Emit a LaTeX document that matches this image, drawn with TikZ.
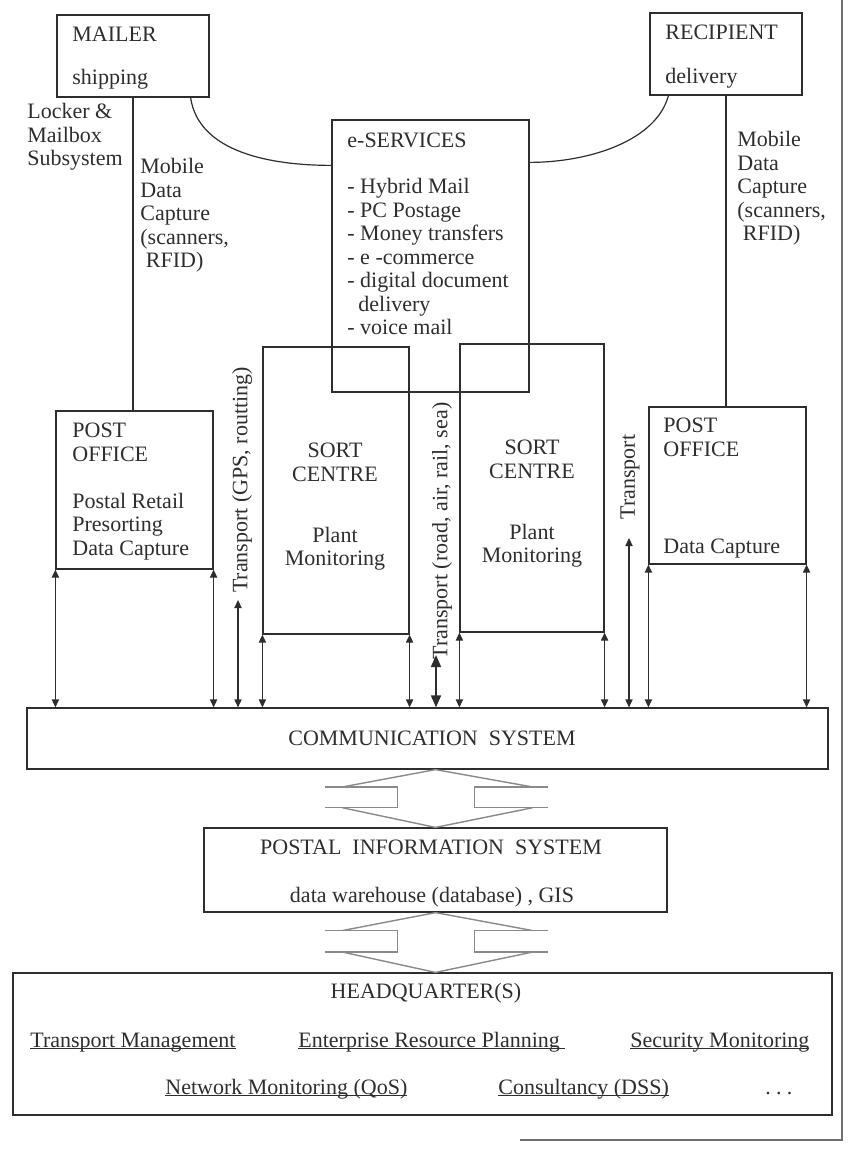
\documentclass[tikz,border=0pt]{standalone}
\usepackage{fontspec}
\setmainfont{Liberation Serif}
\usetikzlibrary{arrows.meta,calc}
\definecolor{psInk}{HTML}{2E2E2E}
\definecolor{psPipe}{HTML}{8A8A8A}
\definecolor{psFrame}{HTML}{707070}
\newcommand{\boxFont}{\fontsize{11}{11.75}\selectfont}
\newcommand{\ulined}[1]{\setbox0=\hbox{#1}\rlap{\rule[-1pt]{\wd0}{0.45pt}}\box0}
\newcommand{\pipeArrow}[2]{%
  \coordinate (apTop) at (pis.north |- #1.south);
  \coordinate (apBot) at (pis.north |- #2.north);
  \coordinate (apUp) at ($(apTop)!0.3!(apBot)$);
  \coordinate (apLow) at ($(apTop)!0.66!(apBot)$);
  \draw[pipe] ($(apUp)+(-111,0)$) -- ($(apUp)+(-38,0)$) -- ($(apLow)+(-38,0)$) -- ($(apLow)+(-111,0)$);
  \draw[pipe] ($(apUp)+(112,0)$) -- ($(apUp)+(39,0)$) -- ($(apLow)+(39,0)$) -- ($(apLow)+(112,0)$);
  \draw[pipe] ($(apUp)+(-93,0)$) -- (apTop) -- ($(apUp)+(97,0)$);
  \draw[pipe] ($(apLow)+(-93,0)$) -- (apBot) -- ($(apLow)+(97,0)$);
}
\tikzset{
  unitBox/.style={draw=psInk, line width=0.6pt, inner sep=0pt},
  boxText/.style={font=\boxFont, text=psInk, align=left, anchor=north west, inner sep=0pt},
  centreText/.style={boxText, align=center, anchor=north},
  sideLabel/.style={font=\boxFont, text=psInk, rotate=90, inner sep=0pt},
  hqItem/.style={font=\boxFont, text=psInk, anchor=base west, inner sep=0pt},
  link/.style={{Triangle[length=4pt,width=3.6pt]}-{Triangle[length=4pt,width=3.6pt]},
    line width=0.6pt, color=psInk},
  linkBold/.style={{Triangle[length=6pt,width=5pt]}-{Triangle[length=6pt,width=5pt]},
    line width=0.8pt, color=psInk},
  wire/.style={line width=0.6pt, color=psInk},
  pipe/.style={line width=0.7pt, color=psPipe},
}
\begin{document}
\begin{tikzpicture}[x=0.5pt,y=-0.5pt]
  \useasboundingbox (0,0) rectangle (847,1149);

  % page frame remains
  \draw[psFrame, line width=0.6pt] (842,0) -- (842,1140) -- (520,1140);

  % boxes
  \node[unitBox, minimum width=76pt, minimum height=41pt] (mailer) at (133,56) {};
  \node[unitBox, minimum width=76pt, minimum height=41pt] (recipient) at (726,54) {};
  \node[unitBox, minimum width=98.5pt, minimum height=136pt] (eserv) at (430.5,256) {};
  \node[unitBox, minimum width=78.5pt, minimum height=79pt] (po1) at (134.5,490) {};
  \node[unitBox, minimum width=73pt, minimum height=143.5pt] (sc1) at (336,490.5) {};
  \node[unitBox, minimum width=72pt, minimum height=144pt] (sc2) at (532,488) {};
  \node[unitBox, minimum width=78.5pt, minimum height=78.5pt] (po2) at (727.5,485.5) {};
  \node[unitBox, minimum width=400.5pt, minimum height=30.5pt] (comm) at (427.5,738.5) {};
  \node[unitBox, minimum width=231.5pt, minimum height=42pt] (pis) at (435.5,870) {};
  \node[unitBox, minimum width=409.5pt, minimum height=71pt] (hq) at (422.5,1044) {};

  % box texts
  \node[boxText] (mailerTxt) at (72,27) {MAILER\\[9.75pt]shipping};
  \node[boxText] (recipientTxt) at (665,25) {RECIPIENT\\[10.25pt]delivery};
  \node[boxText] (lockerTxt) at (27,103) {Locker \&\\Mailbox\\Subsystem};
  \node[boxText] (mobileLeft) at (140,158)
    {Mobile\\Data\\Capture\\(scanners,\\\ RFID)};
  \node[boxText] (mobileRight) at (737,131)
    {Mobile\\Data\\Capture\\(scanners,\\\ RFID)};
  \node[boxText] (eservTxt) at (347,133)
    {e-SERVICES\\[11.25pt]- Hybrid Mail\\- PC Postage\\- Money transfers\\- e -commerce\\- digital document\\\hspace{5.5pt}delivery\\- voice mail};
  \node[boxText] (po1Txt) at (72,423)
    {POST\\OFFICE\\[11.75pt]Postal Retail\\Presorting\\Data Capture};
  \node[centreText] (sc1Txt) at (335,443) {SORT\\CENTRE\\[18.75pt]Plant\\Monitoring};
  \node[centreText] (sc2Txt) at (532,440) {SORT\\CENTRE\\[18.75pt]Plant\\Monitoring};
  \node[boxText] (po2Txt) at (663,418) {POST\\OFFICE\\[36.75pt]Data Capture};

  \node[sideLabel] (gpsLabel) at (242,480) {Transport (GPS, routting)};
  \node[sideLabel] (roadLabel) at (442,531) {Transport (road, air, rail, sea)};
  \node[sideLabel] (trLabel) at (630,477) {Transport};

  \node[hqItem, anchor=base] (commTxt) at (432,745) {COMMUNICATION\ \ SYSTEM};
  \node[hqItem, anchor=base] (pisTitle) at (431,854) {POSTAL\ \ INFORMATION\ \ SYSTEM};
  \node[hqItem, anchor=base] (pisSub) at (432,902) {data warehouse (database) , GIS};

  \node[hqItem, anchor=base] (hqTitle) at (426,998) {HEADQUARTER(S)};
  \node[hqItem] (hqTransport) at (30,1047) {\ulined{Transport Management}};
  \node[hqItem] (hqErp) at (298,1047) {\ulined{Enterprise Resource Planning\ }};
  \node[hqItem] (hqSecurity) at (630,1047) {\ulined{Security Monitoring}};
  \node[hqItem] (hqNetwork) at (165,1094) {\ulined{Network Monitoring (QoS)}};
  \node[hqItem] (hqConsult) at (498,1094) {\ulined{Consultancy (DSS)}};
  \node[hqItem] (hqMore) at (765,1094) {.\kern2.6pt.\kern2.6pt.};

  % capture lines and e-services links
  \draw[wire] (mailer.south) -- (mailer.south |- po1.north);
  \draw[wire] (recipient.south) -- (recipient.south |- po2.north);
  \draw[wire] ($(mailer.south east)+(-19,0)$) .. controls +(8,55) and +(-60,0) .. ($(eserv.north west)+(0,46)$);
  \draw[wire] ($(eserv.north east)+(0,43)$) .. controls +(60,0) and +(-12,45) .. ($(recipient.south west)+(19,0)$);

  % links down to the communication system
  \foreach \n in {po1,sc1,sc2,po2}{
    \draw[link] (\n.south west) -- (\n.south west |- comm.north);
    \draw[link] (\n.south east) -- (\n.south east |- comm.north);
  }
  \coordinate (gpsEnd) at (238,600);
  \coordinate (roadEnd) at (436,655);
  \coordinate (trEnd) at (629,538);
  \draw[link] (gpsEnd) -- (gpsEnd |- comm.north);
  \draw[linkBold] (roadEnd) -- (roadEnd |- comm.north);
  \draw[link] (trEnd) -- (trEnd |- comm.north);

  % block arrows between the lower systems
  \pipeArrow{comm}{pis}
  \pipeArrow{pis}{hq}
\end{tikzpicture}
\end{document}
